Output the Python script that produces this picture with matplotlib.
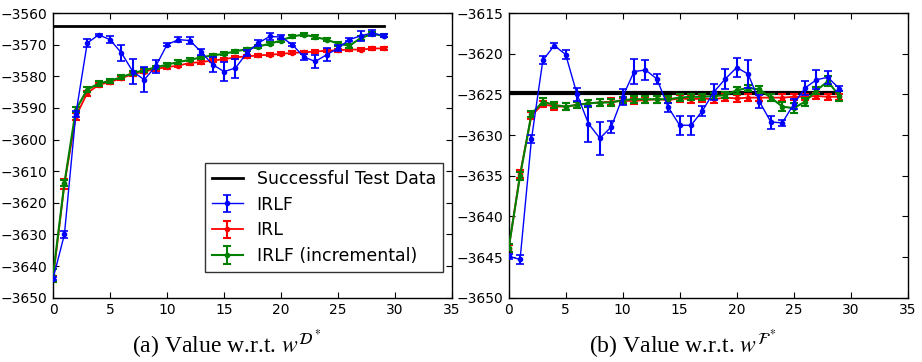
import matplotlib
matplotlib.use("Agg")
import matplotlib.pyplot as plt
import numpy as np

iters = list(range(30))

# ---- Panel (a): value w.r.t. w^{D*}
a_success = -3564.0
a_irlf = [-3644, -3630, -3592, -3569.5, -3566.9, -3568.4, -3572.6, -3578.5, -3581.1, -3576.9,
          -3570.0, -3568.4, -3568.7, -3572.3, -3576.3, -3578.5, -3577.4, -3572.6, -3569.5, -3567.4,
          -3567.6, -3570.0, -3573.9, -3575.3, -3573.2, -3571.1, -3568.4, -3567.2, -3566.3, -3567.2]
a_irlf_err = [0.5, 1.0, 1.0, 1.2, 0.4, 1.0, 2.5, 4.0, 4.0, 2.0,
              0.5, 0.7, 1.0, 1.0, 2.5, 3.0, 3.0, 1.0, 1.0, 1.0,
              0.7, 0.5, 1.0, 2.0, 2.0, 1.0, 0.5, 1.5, 1.0, 0.5]
a_irl = [-3644, -3614, -3592.7, -3585.3, -3582.7, -3581.8, -3580.6, -3579.3, -3578.5, -3577.7,
         -3577.1, -3576.6, -3575.8, -3575.5, -3575.0, -3574.6, -3574.0, -3573.7, -3573.4, -3573.2,
         -3572.9, -3572.6, -3572.4, -3572.2, -3571.9, -3571.8, -3571.5, -3571.6, -3571.2, -3571.2]
a_irl_err = [1.0, 1.5, 1.0, 0.8, 0.7, 0.6, 0.6, 0.6, 0.6, 0.5,
             0.5, 0.5, 0.5, 0.5, 0.5, 0.5, 0.5, 0.5, 0.5, 0.5,
             0.5, 0.5, 0.5, 0.5, 0.5, 0.5, 0.5, 0.5, 0.4, 0.4]
a_inc = [-3643, -3613.8, -3590.6, -3584.2, -3582.3, -3581.4, -3580.3, -3579.0, -3578.1, -3577.2,
         -3576.3, -3575.5, -3574.8, -3574.0, -3573.4, -3572.9, -3572.1, -3571.4, -3570.6, -3569.7,
         -3568.7, -3567.4, -3566.8, -3567.6, -3568.4, -3569.7, -3570.3, -3567.9, -3566.6, -3567.2]
a_inc_err = [2.0, 1.0, 0.8, 0.8, 0.7, 0.6, 0.6, 0.6, 0.6, 0.5,
             0.5, 0.5, 0.5, 0.5, 0.5, 0.5, 0.5, 0.5, 0.5, 0.5,
             0.5, 0.5, 0.5, 0.5, 0.6, 0.6, 0.6, 0.5, 0.5, 0.5]

# ---- Panel (b): value w.r.t. w^{F*}
b_success = -3624.8
b_irlf = [-3644.9, -3645.3, -3630.5, -3620.8, -3619.0, -3620.1, -3625.0, -3628.6, -3630.4, -3629.0,
          -3625.3, -3622.2, -3622.0, -3623.1, -3626.6, -3628.8, -3628.8, -3627.0, -3624.7, -3623.1,
          -3621.7, -3622.5, -3625.9, -3628.4, -3628.5, -3626.2, -3624.2, -3623.2, -3622.9, -3624.3]
b_irlf_err = [0.3, 0.5, 0.5, 0.5, 0.3, 0.6, 0.8, 2.2, 2.0, 0.7,
              1.0, 1.5, 1.2, 0.6, 0.6, 1.2, 1.2, 0.6, 1.0, 1.2,
              1.2, 1.7, 0.8, 0.8, 0.4, 0.6, 0.9, 1.2, 0.8, 0.3]
b_irl = [-3644, -3634.8, -3627.6, -3626.2, -3626.5, -3626.5, -3626.3, -3626.1, -3626.0, -3625.9,
         -3625.8, -3625.8, -3625.7, -3625.6, -3625.7, -3625.5, -3625.6, -3625.5, -3625.6, -3625.4,
         -3625.5, -3625.4, -3625.4, -3625.4, -3625.4, -3625.3, -3625.3, -3625.2, -3625.3, -3625.3]
b_irl_err = [0.5, 0.5, 0.4, 0.4, 0.4, 0.4, 0.4, 0.4, 0.4, 0.4,
             0.4, 0.4, 0.4, 0.4, 0.4, 0.4, 0.4, 0.4, 0.4, 0.4,
             0.4, 0.4, 0.4, 0.4, 0.4, 0.4, 0.4, 0.4, 0.4, 0.4]
b_inc = [-3643.9, -3635.0, -3627.4, -3625.9, -3626.3, -3626.5, -3626.3, -3626.1, -3626.0, -3626.0,
         -3625.7, -3625.6, -3625.6, -3625.6, -3625.6, -3625.4, -3625.3, -3625.3, -3625.2, -3625.1,
         -3624.5, -3624.2, -3624.4, -3625.4, -3626.5, -3626.7, -3625.9, -3624.5, -3623.4, -3625.2]
b_inc_err = [0.5, 0.5, 0.4, 0.4, 0.4, 0.4, 0.4, 0.4, 0.4, 0.4,
             0.4, 0.4, 0.4, 0.4, 0.4, 0.4, 0.4, 0.4, 0.4, 0.4,
             0.4, 0.4, 0.4, 0.4, 0.6, 0.6, 0.5, 0.4, 0.6, 0.6]

labels = ["Successful Test Data", "IRLF", "IRL", "IRLF (incremental)"]
captions = [r"(a) Value w.r.t. $w^{\mathcal{D}^*}$", r"(b) Value w.r.t. $w^{\mathcal{F}^*}$"]

plt.rcParams['mathtext.fontset'] = 'stix'

fig = plt.figure(figsize=(9.22, 3.62), dpi=100)
axA = fig.add_axes([0.0575, 0.1776, 0.4328, 0.7864])
axB = fig.add_axes([0.5517, 0.1776, 0.4328, 0.7864])

def draw(ax, success, irlf, irlf_e, irl, irl_e, inc, inc_e, blw, ylim, yticks):
    h0, = ax.plot([iters[0], iters[-1]], [success, success], color='black', lw=blw)
    h1 = ax.errorbar(iters, irlf, yerr=irlf_e, color='#0000ff', lw=1.0, elinewidth=1.5,
                     marker='o', ms=3, mec='#0000ff', capsize=3, capthick=1.2, zorder=3)
    h2 = ax.errorbar(iters, irl, yerr=irl_e, color='#ff0000', lw=1.3, elinewidth=1.5,
                     marker='o', ms=3, mec='#ff0000', capsize=3, capthick=1.5, zorder=2)
    h3 = ax.errorbar(iters, inc, yerr=inc_e, color='#008000', lw=1.5, elinewidth=1.5,
                     marker='o', ms=3, mec='#008000', capsize=3, capthick=1.5, zorder=2.5)
    ax.set_xlim(0, 35)
    ax.set_ylim(*ylim)
    ax.set_yticks(yticks)
    ax.set_xticks(range(0, 36, 5))
    ax.tick_params(direction='in', top=True, right=True, length=4, labelsize=10, pad=4)
    for s in ax.spines.values():
        s.set_linewidth(1.0)
    return [h0, h1, h2, h3]

hs = draw(axA, a_success, a_irlf, a_irlf_err, a_irl, a_irl_err, a_inc, a_inc_err, 2.0,
          (-3650, -3560), range(-3650, -3559, 10))
draw(axB, b_success, b_irlf, b_irlf_err, b_irl, b_irl_err, b_inc, b_inc_err, 3.0,
     (-3650, -3615), range(-3650, -3614, 5))

leg = axA.legend(hs, labels, loc='lower right', bbox_to_anchor=(0.977, 0.09), fontsize=12.5,
                 frameon=True, fancybox=False, borderaxespad=0.0, handlelength=1.8,
                 labelspacing=0.45, borderpad=0.4)
leg.get_frame().set_edgecolor('black')
leg.get_frame().set_linewidth(1.0)

for ax, cap in zip([axA, axB], captions):
    ax.text(0.436, -0.166, cap, transform=ax.transAxes, ha='center', va='center',
            fontsize=17, family='Liberation Serif')

fig.savefig("out.png", dpi=100)
